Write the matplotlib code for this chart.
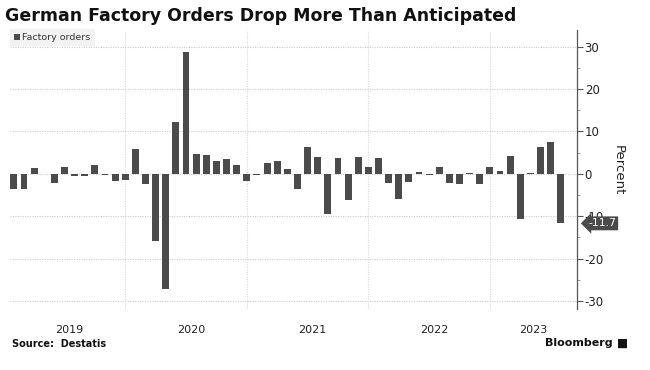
import matplotlib
matplotlib.use("Agg")
import matplotlib.pyplot as plt
import matplotlib.transforms as mtransforms
from matplotlib.ticker import MultipleLocator
import numpy as np

# ---- data (monthly % change, Jan 2019 - Jul 2023) ----
years = ["2019", "2020", "2021", "2022", "2023"]
orders_2019 = [-3.5, -3.7, 1.3, -0.1, -2.1, 1.7, -0.6, -0.6, 2.0, -0.4, -1.7, -1.4]
orders_2020 = [5.8, -2.5, -15.8, -27.3, 12.1, 28.7, 4.6, 4.4, 2.9, 3.4, 2.1, -1.7]
orders_2021 = [-0.4, 2.6, 2.9, 1.1, -3.5, 6.2, 4.0, -9.4, 3.7, -6.3, 3.9, 1.7]
orders_2022 = [3.8, -2.3, -5.9, -2.0, 0.5, -0.3, 1.7, -2.1, -2.5, 0.2, -2.5, 1.7]
orders_2023 = [0.6, 4.3, -10.6, 0.2, 6.2, 7.6, -11.7]
y_ticks = [-30, -20, -10, 0, 10, 20, 30]
last_label = "-11.7"

series = orders_2019 + orders_2020 + orders_2021 + orders_2022 + orders_2023
year_lengths = [len(orders_2019), len(orders_2020), len(orders_2021), len(orders_2022), len(orders_2023)]
x = np.arange(len(series))

W, H = 650, 370
fig = plt.figure(figsize=(W / 100, H / 100), dpi=100)
plt.rcParams['font.family'] = ['DejaVu Sans']

left, right, top, bottom = 10, 577, 30, 309
ax = fig.add_axes([left / W, 1 - bottom / H, (right - left) / W, (bottom - top) / H])

bar_color = "#4b4b4b"
ax.bar(x, series, width=0.68, color=bar_color, edgecolor="none", zorder=3)

ax.set_xlim(-0.38, 55.6)
ax.set_ylim(-31.9, 33.9)

# horizontal dotted grid
for t in y_ticks:
    ax.axhline(t, color="#cccccc", lw=0.8, ls=(0, (1, 1.2)), zorder=1)

# vertical year boundaries (bars centred at month end)
starts = np.cumsum([0] + year_lengths)
for s in starts[1:-1]:
    ax.plot([s - 1, s - 1], [0, 1], transform=mtransforms.blended_transform_factory(ax.transData, ax.transAxes),
            color="#d8d8d8", lw=0.8, ls=(0, (1, 1.2)), zorder=1, clip_on=False)

# year labels
for i, yr in enumerate(years):
    idx = np.arange(starts[i], starts[i + 1])
    cx = idx.mean() if i < len(years) - 1 else idx.mean() + 0.3
    ax.text(cx, -0.075, yr, transform=mtransforms.blended_transform_factory(ax.transData, ax.transAxes),
            ha="center", va="center", fontsize=8, color="#222222")

# spines / axis
for s in ["top", "left", "bottom"]:
    ax.spines[s].set_visible(False)
ax.spines["right"].set_color("#555555")
ax.spines["right"].set_linewidth(0.9)
ax.yaxis.tick_right()
ax.set_yticks(y_ticks)
ax.set_yticklabels([str(t) for t in y_ticks])
ax.yaxis.set_minor_locator(MultipleLocator(5))
ax.tick_params(axis="y", which="major", length=4, width=0.8, color="#555555", labelsize=8.5,
               labelcolor="#222222", pad=1.5)
ax.tick_params(axis="y", which="minor", length=2, width=0.6, color="#888888")
ax.set_xticks([])

fig.text(618 / W, 1 - 170 / H, "Percent", rotation=-90, ha="center", va="center",
         fontsize=9.5, color="#222222")

# last value callout
ax.text(1.02, series[-1], last_label,
        transform=mtransforms.blended_transform_factory(ax.transAxes, ax.transData),
        ha="left", va="center", fontsize=7.8, color="white", zorder=5,
        bbox=dict(boxstyle="larrow,pad=0.18", fc="#4b4b4b", ec="none"))

# legend
ax.bar([np.nan], [np.nan], color=bar_color, label="Factory orders")
leg = ax.legend(loc="upper left", bbox_to_anchor=(0.0, 1.005), fontsize=6.8, frameon=True,
                handlelength=0.6, handleheight=0.6, handletextpad=0.25, borderpad=0.45,
                borderaxespad=0.0, fancybox=False)
leg.get_frame().set_facecolor("#efefef")
leg.get_frame().set_edgecolor("none")
for t in leg.get_texts():
    t.set_color("#333333")

# title and footer
fig.text(5 / W, 1 - 16 / H, "German Factory Orders Drop More Than Anticipated",
         ha="left", va="center", fontsize=12.5, fontweight="bold", color="#111111")
fig.text(12 / W, 1 - 344 / H, "Source:  Destatis", ha="left", va="center",
         fontsize=7, fontweight="bold", color="#111111")
fig.text(613 / W, 1 - 343 / H, "Bloomberg", ha="right", va="center",
         fontsize=8, fontweight="bold", color="#111111")
fig.text(623 / W, 1 - 343 / H, "\u25A0", ha="center", va="center", fontsize=8.5, color="#111111")

fig.savefig("out.png", dpi=100, facecolor="white")
